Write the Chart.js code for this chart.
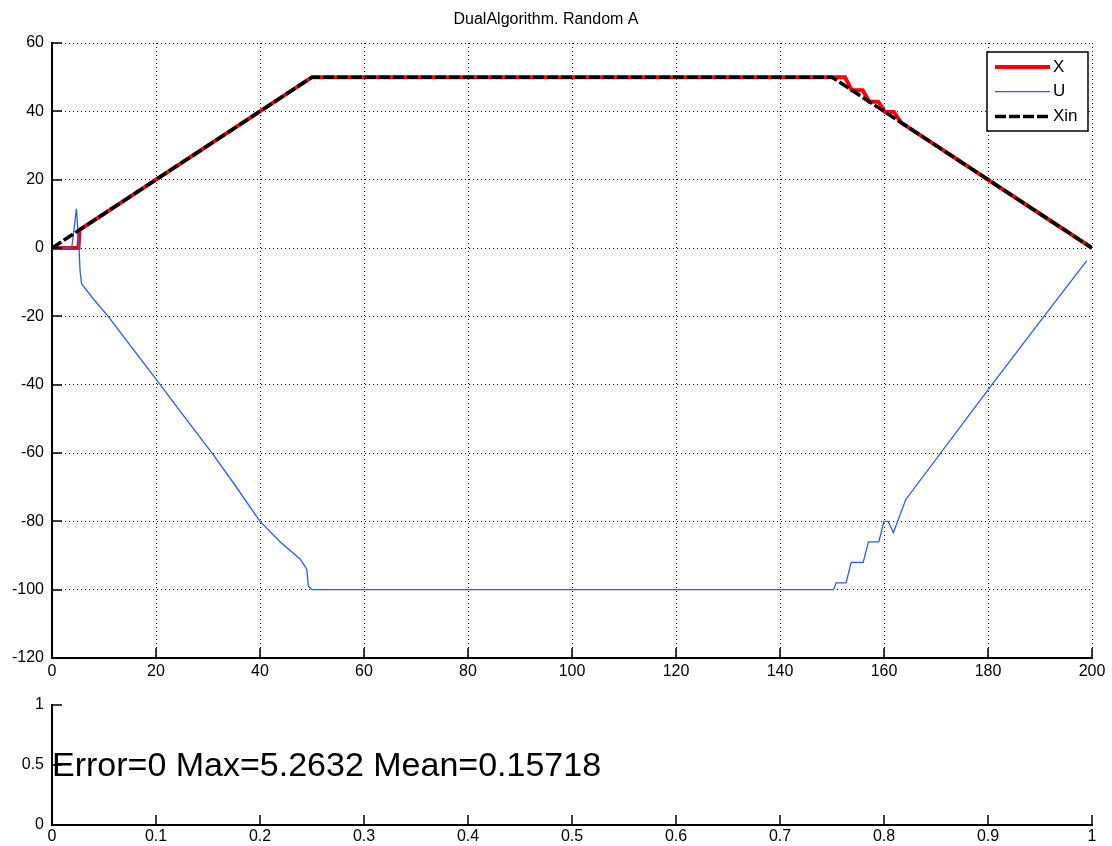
<!DOCTYPE html>
<html>
<head>
<meta charset="utf-8">
<script src="https://cdn.jsdelivr.net/npm/chart.js@4"></script>
<style>
  html, body { margin: 0; padding: 0; background: #fff; }
  #wrap { position: relative; width: 1112px; height: 846px; background: #fff; }
  canvas { position: absolute; left: 0; }
  #c1 { top: 0; }
  #c2 { top: 685px; }
</style>
</head>
<body>
<div id="wrap">
  <canvas id="c1" width="1112" height="685"></canvas>
  <canvas id="c2" width="1112" height="161"></canvas>
</div>
<script>
// ---------- data ----------
const titleText = 'DualAlgorithm. Random A';
const seriesNames = ['X', 'U', 'Xin'];

// Xin: reference trajectory (breakpoints)
const tXin = [0, 50, 150, 200];
const xinVals = [0, 50, 50, 0];

// X: state
const tX = [0, 5.1, 5.3, 50, 150, 152.5, 153.8, 155.9, 157.2, 158.9, 160.2, 161.9, 163.3, 200];
const xVals = [0, 0, 5.3, 50, 50, 50, 46.2, 46.2, 42.8, 42.8, 39.8, 39.8, 36.7, 0];

// U: control
const tU = [0, 3.8, 4.7, 5.2, 5.4, 5.7, 8, 10.8, 13, 16, 20.8, 25, 31, 35, 40, 44, 47.7, 49, 49.3, 50,
            150, 150.3, 150.8, 152.7, 153.7, 156, 157, 159, 160, 160.8, 161.8, 164.2, 180, 189, 199];
const uVals = [0, 0, 11.5, 0, -6.8, -10.5, -15, -20, -24.4, -30.4, -40, -48.5, -60.5, -69, -80, -86.2, -91, -94, -99, -100,
               -100, -100, -98, -98, -92, -92, -86, -86, -80, -80, -83.3, -73.6, -41.5, -23.5, -3.7];

const xTicksTop = [0, 20, 40, 60, 80, 100, 120, 140, 160, 180, 200];
const yTicksTop = [-120, -100, -80, -60, -40, -20, 0, 20, 40, 60];

const xTicksBottom = [0, 0.1, 0.2, 0.3, 0.4, 0.5, 0.6, 0.7, 0.8, 0.9, 1];
const xTickLabelsBottom = ['0', '0.1', '0.2', '0.3', '0.4', '0.5', '0.6', '0.7', '0.8', '0.9', '1'];
const yTicksBottom = [0, 0.5, 1];
const yTickLabelsBottom = ['0', '0.5', '1'];

const infoText = 'Error=0 Max=5.2632 Mean=0.15718';
const infoPos = [0, 0.5];

// ---------- helpers ----------
const FONT = '"Liberation Sans", Arial, Helvetica, sans-serif';
const pts = (ts, vs) => ts.map((t, i) => ({ x: t, y: vs[i] }));

const inwardTicks = {
  id: 'inwardTicks',
  afterDraw(chart) {
    const ctx = chart.ctx;
    const xs = chart.scales.x, ys = chart.scales.y;
    const len = 10;
    ctx.save();
    ctx.strokeStyle = '#000';
    ctx.lineWidth = 1.5;
    ctx.beginPath();
    ys.ticks.forEach(t => {
      const y = Math.round(ys.getPixelForValue(t.value));
      ctx.moveTo(xs.left, y);
      ctx.lineTo(xs.left + len, y);
    });
    xs.ticks.forEach(t => {
      const x = Math.round(xs.getPixelForValue(t.value));
      ctx.moveTo(x, ys.bottom);
      ctx.lineTo(x, ys.bottom - len);
    });
    ctx.stroke();
    ctx.restore();
  }
};

const boxLegend = {
  id: 'boxLegend',
  afterDatasetsDraw(chart) {
    const ctx = chart.ctx;
    const bx = 987, by = 52, bw = 101, bh = 79;
    ctx.save();
    ctx.fillStyle = '#fff';
    ctx.fillRect(bx, by, bw, bh);
    ctx.strokeStyle = '#000';
    ctx.lineWidth = 1.5;
    ctx.strokeRect(bx, by, bw, bh);
    chart.data.datasets.forEach((ds, i) => {
      const y = by + 15 + i * 24.7;
      ctx.beginPath();
      ctx.strokeStyle = ds.borderColor;
      ctx.lineWidth = ds.borderWidth;
      ctx.setLineDash(ds.borderDash || []);
      ctx.moveTo(995, y);
      ctx.lineTo(1050, y);
      ctx.stroke();
      ctx.setLineDash([]);
      ctx.fillStyle = '#000';
      ctx.font = '17px ' + FONT;
      ctx.textAlign = 'left';
      ctx.textBaseline = 'middle';
      ctx.fillText(ds.label, 1053, y);
    });
    ctx.restore();
  }
};

const infoLabel = {
  id: 'infoLabel',
  afterDraw(chart) {
    const ctx = chart.ctx;
    const x = chart.scales.x.getPixelForValue(infoPos[0]);
    const y = chart.scales.y.getPixelForValue(infoPos[1]);
    ctx.save();
    ctx.fillStyle = '#000';
    ctx.font = '34px ' + FONT;
    ctx.textAlign = 'left';
    ctx.textBaseline = 'middle';
    ctx.fillText(infoText, x, y + 2);
    ctx.restore();
  }
};

Chart.defaults.font.family = FONT;
Chart.defaults.font.size = 16;
Chart.defaults.color = '#000';

// ---------- top chart ----------
new Chart(document.getElementById('c1'), {
  type: 'line',
  data: {
    datasets: [
      { label: seriesNames[0], data: pts(tX, xVals), borderColor: '#ff0000', borderWidth: 4,
        pointRadius: 0, tension: 0, fill: false, order: 2 },
      { label: seriesNames[1], data: pts(tU, uVals), borderColor: 'rgb(40,90,255)', borderWidth: 1.3,
        pointRadius: 0, tension: 0, fill: false, order: 1 },
      { label: seriesNames[2], data: pts(tXin, xinVals), borderColor: '#000', borderWidth: 3.5,
        borderDash: [11, 3], pointRadius: 0, tension: 0, fill: false, order: 0 }
    ]
  },
  options: {
    responsive: false,
    animation: false,
    devicePixelRatio: 1,
    layout: { padding: { left: 0, right: 20, top: 0, bottom: 0 } },
    plugins: {
      legend: { display: false },
      tooltip: { enabled: false },
      title: { display: true, text: titleText, color: '#000',
               font: { size: 16, weight: 'normal', lineHeight: 1.2 },
               padding: { top: 10.4, bottom: 13.4 } }
    },
    scales: {
      x: {
        type: 'linear', min: 0, max: 200,
        afterBuildTicks: s => { s.ticks = xTicksTop.map(v => ({ value: v })); },
        afterFit: s => { s.height = 27; },
        ticks: { padding: 4, maxRotation: 0, autoSkip: false, color: '#000' },
        grid: { color: '#111', lineWidth: 1, drawTicks: false },
        border: { display: true, color: '#000', width: 2, dash: [1, 3] }
      },
      y: {
        type: 'linear', min: -120, max: 60,
        afterBuildTicks: s => { s.ticks = yTicksTop.map(v => ({ value: v })); },
        afterFit: s => { s.width = 52; },
        ticks: { padding: 8, autoSkip: false, color: '#000' },
        grid: { color: '#111', lineWidth: 1, drawTicks: false },
        border: { display: true, color: '#000', width: 2, dash: [1, 3] }
      }
    }
  },
  plugins: [inwardTicks, boxLegend]
});

// ---------- bottom panel ----------
new Chart(document.getElementById('c2'), {
  type: 'line',
  data: { datasets: [] },
  options: {
    responsive: false,
    animation: false,
    devicePixelRatio: 1,
    layout: { padding: { left: 0, right: 20, top: 20, bottom: 0 } },
    plugins: { legend: { display: false }, tooltip: { enabled: false }, title: { display: false } },
    scales: {
      x: {
        type: 'linear', min: 0, max: 1,
        afterBuildTicks: s => { s.ticks = xTicksBottom.map(v => ({ value: v })); },
        afterFit: s => { s.height = 21; },
        ticks: { padding: 2, maxRotation: 0, autoSkip: false, color: '#000',
                 callback: (v, i) => xTickLabelsBottom[i] },
        grid: { drawOnChartArea: false, drawTicks: false },
        border: { display: true, color: '#000', width: 2 }
      },
      y: {
        type: 'linear', min: 0, max: 1,
        afterBuildTicks: s => { s.ticks = yTicksBottom.map(v => ({ value: v })); },
        afterFit: s => { s.width = 52; },
        ticks: { padding: 8, autoSkip: false, color: '#000',
                 callback: (v, i) => yTickLabelsBottom[i] },
        grid: { drawOnChartArea: false, drawTicks: false },
        border: { display: true, color: '#000', width: 2 }
      }
    }
  },
  plugins: [inwardTicks, infoLabel]
});
</script>
</body>
</html>
